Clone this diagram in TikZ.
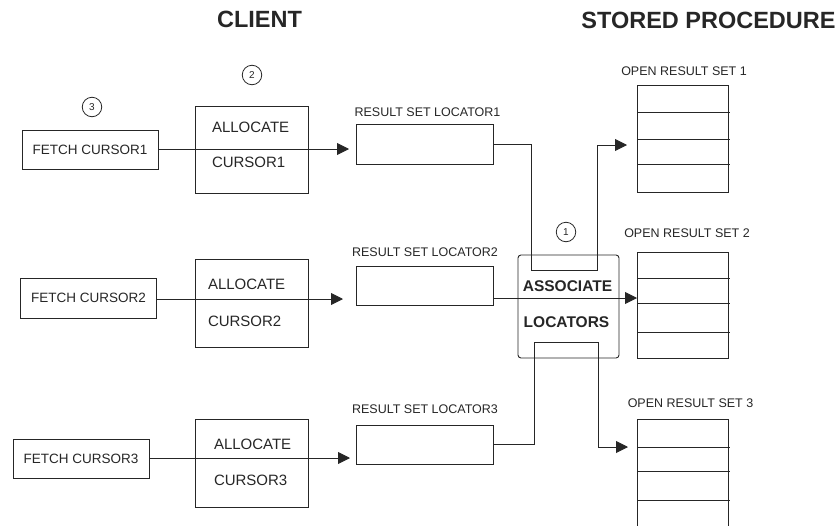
\documentclass[tikz,border=0pt]{standalone}
\usepackage{fontspec}
\setmainfont{Liberation Sans}
\usetikzlibrary{arrows.meta}
\definecolor{ink}{HTML}{262626}
\begin{document}
\begin{tikzpicture}[x=1pt,y=-1pt,
  every node/.style={inner sep=0pt, outer sep=0pt, text=ink},
  ln/.style={draw=ink, line width=0.9pt},
  box/.style={ln},
  arr/.style={ln, -{Triangle[length=12pt,width=12pt]}},
  title/.style={font=\bfseries\fontsize{23.5}{26}\selectfont},
  fetchbox/.style={box, minimum width=136pt, minimum height=39pt, font=\fontsize{13.5}{15}\selectfont},
  allocbox/.style={box, minimum width=113pt, minimum height=87pt},
  alloctxt/.style={anchor=west, font=\fontsize{15}{17}\selectfont},
  rslbox/.style={box, minimum width=137pt, minimum height=40pt},
  lbl/.style={font=\fontsize{12.5}{14}\selectfont},
  orsbox/.style={box, minimum width=91pt},
  num/.style={circle, ln, line width=0.8pt, minimum size=19.5pt, font=\fontsize{10}{11}\selectfont},
  assoctxt/.style={font=\bfseries\fontsize{15.5}{17}\selectfont}
]
\useasboundingbox (0,0) rectangle (840,525);

% titles
\node[title] (tclient) at (259.5,19) {CLIENT};
\node[title] (tsp) at (708.5,20) {STORED PROCEDURE};

% step numbers
\node[num] (n3) at (92,107) {3};
\node[num] (n2) at (252,75) {2};
\node[num] (n1) at (566,232) {1};

% fetch boxes
\node[fetchbox] (fetch1) at (90,149.5) {FETCH CURSOR1};
\node[fetchbox, minimum height=40pt] (fetch2) at (88.5,298) {FETCH CURSOR2};
\node[fetchbox] (fetch3) at (81,459) {FETCH CURSOR3};

% allocate boxes
\node[allocbox] (alloc1) at (251.5,149.5) {};
\node[allocbox, minimum height=88pt] (alloc2) at (251.5,303) {};
\node[allocbox, minimum height=88pt] (alloc3) at (251.5,463) {};
\node[alloctxt] (a1t) at (212,127) {ALLOCATE};
\node[alloctxt] (a1b) at (212,162) {CURSOR1};
\node[alloctxt] (a2t) at (208,284) {ALLOCATE};
\node[alloctxt] (a2b) at (208,321) {CURSOR2};
\node[alloctxt] (a3t) at (214,444) {ALLOCATE};
\node[alloctxt] (a3b) at (214,480) {CURSOR3};

% result set locators
\node[rslbox] (rsl1) at (424.5,144) {};
\node[rslbox, minimum height=39pt] (rsl2) at (424.5,285.5) {};
\node[rslbox, minimum height=39pt] (rsl3) at (424.5,444.5) {};
\node[lbl] (rsl1l) at (427.5,112) {RESULT SET LOCATOR1};
\node[lbl] (rsl2l) at (425,252) {RESULT SET LOCATOR2};
\node[lbl] (rsl3l) at (425,409) {RESULT SET LOCATOR3};

% associate locators
\node[box, rounded corners=3pt, minimum width=101pt, minimum height=103pt] (assoc) at (568.5,306.5) {};
\node[assoctxt] (asst) at (567.5,286) {ASSOCIATE};
\node[assoctxt] (assb) at (566.5,322) {LOCATORS};

% open result sets
\node[orsbox, minimum height=107pt] (ors1) at (682.5,138.5) {};
\node[orsbox, minimum height=106pt] (ors2) at (682.5,305) {};
\coordinate (ors3w) at (637,419);
\draw[ln] (637,530) -- (ors3w) -- (728,419) -- (728,530);
\node[lbl] (ors1l) at (684,71) {OPEN RESULT SET 1};
\node[lbl] (ors2l) at (687,233) {OPEN RESULT SET 2};
\node[lbl] (ors3l) at (690.5,403) {OPEN RESULT SET 3};
\foreach \y in {112,139,164,278,303,332,447,471,500}
  \draw[ln] (637,\y) -- (730,\y);

% client connectors
\draw[arr] (fetch1.east |- 0,149) -- ([xshift=-7pt]rsl1.west |- 0,149);
\draw[arr] (fetch2.east |- 0,299) -- ([xshift=-13pt]rsl2.west |- 0,299);
\draw[arr] (fetch3.east |- 0,458) -- ([xshift=-6pt]rsl3.west |- 0,458);

% locator connectors
\coordinate (k1a) at (531,270);
\coordinate (k1b) at (597,145);
\draw[arr] (rsl1.east) -| (k1a) -| (k1b) -- ([xshift=-10pt]ors1.west |- k1b);
\draw[arr] ([yshift=-12.5pt]rsl2.east) -- ([yshift=-12.5pt]rsl2.east -| ors2.west);
\coordinate (k3a) at (534,342);
\coordinate (k3b) at (598,447);
\draw[arr] (rsl3.east) -| (k3a) -| (k3b) -- ([xshift=-9pt]ors3w |- k3b);
\end{tikzpicture}
\end{document}
